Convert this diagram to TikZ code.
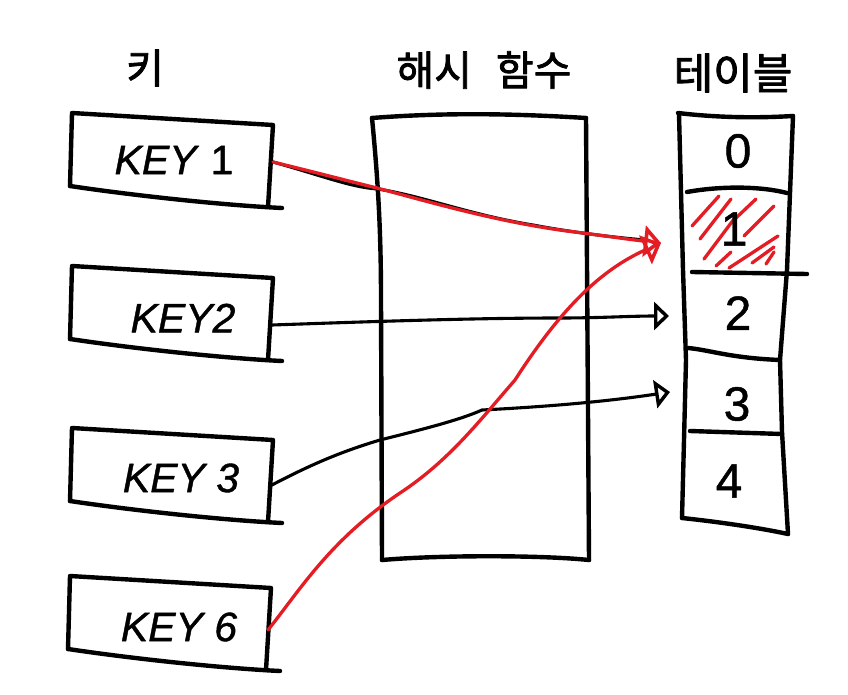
\documentclass[tikz,border=0pt]{standalone}
\usepackage{fontspec}
\setmainfont{Liberation Sans}
\newfontfamily\krfont{Noto Sans CJK KR}[FakeBold=2]
\newfontfamily\keyfont{Liberation Sans}[FakeBold=1]
\usetikzlibrary{arrows.meta}
\definecolor{pred}{RGB}{228,28,36}
\begin{document}
\begin{tikzpicture}[x=1pt,y=-1pt,line cap=round,line join=round,
  pen/.style={line width=4.4pt,black},
  thin pen/.style={line width=3.1pt,black},
  redpen/.style={line width=3.3pt,pred},
  keytxt/.style={font=\keyfont\fontsize{41}{43}\selectfont\itshape,inner sep=0pt},
  numtxt/.style={font=\keyfont\fontsize{48}{50}\selectfont,inner sep=0pt},
  titletxt/.style={font=\krfont\fontsize{41}{43}\selectfont,inner sep=0pt},
  headblack/.style={-{Triangle[open,length=15pt,width=28pt,line width=3.4pt]}},
  headred/.style={-{Triangle[open,length=17pt,width=31pt,line width=3.6pt]}},
  keybox/.pic={
    \draw[pen] (0,73) -- (2,0) -- (203,12) -- (198,94);
    \draw[pen] (0,73) .. controls (60,82) and (150,92) .. (212,95);
  }]
\useasboundingbox (0,0) rectangle (848,695);
\fill[white] (0,0) rectangle (848,695);

% titles
\node[titletxt] (tkey) at (145,68) {키};
\node[titletxt] (thash) at (484,70) {해시\hspace{24pt}함수};
\node[titletxt,font=\krfont\fontsize{43}{45}\selectfont] (ttable) at (733,73) {테이블};

% key boxes
\pic at (70,113) {keybox};
\pic at (70,266) {keybox};
\pic at (70,428) {keybox};
\pic at (68,576) {keybox};
\node[keytxt] (key1) at (174,160) {KEY\hspace{14pt}\upshape 1};
\node[keytxt] (key2) at (183,318) {KEY2};
\node[keytxt] (key3) at (181,478) {KEY 3};
\node[keytxt] (key6) at (179,627) {KEY 6};

% hash function box
\draw[pen] (372,118) .. controls (450,112) and (520,114) .. (586,118);
\draw[pen] (372,118) .. controls (378,180) and (381,230) .. (381,300) -- (382,560);
\draw[pen] (586,118) -- (589,560);
\draw[pen] (382,560) .. controls (440,555) and (540,555) .. (589,560);

% table
\draw[pen] (678,113) .. controls (720,118) and (760,118) .. (793,116);
\draw[pen] (679,114) -- (683,270) -- (686,360) -- (684,440) -- (682,518);
\draw[pen] (793,116) -- (787,270) -- (780,360) -- (782,432) -- (788,534);
\draw[pen] (682,518) .. controls (720,522) and (760,528) .. (788,534);
\draw[pen] (687,192) .. controls (720,186) and (760,186) .. (787,193);
\draw[pen] (692,272) -- (807,274);
\draw[pen] (688,348) .. controls (710,350) and (730,358) .. (780,360);
\draw[pen] (690,431) -- (782,434);

% hatching of cell 1
\foreach \a/\b in {{(692,226)/(719,196)},{(700,239)/(731,199)},{(736,218)/(756,199)},
  {(704,259)/(734,219)},{(744,236)/(774,206)},{(716,266)/(731,252)},
  {(729,268)/(778,236)},{(752,263)/(774,247)},{(766,264)/(774,252)}}
  \draw[redpen] \a -- \b;

% table numbers
\node[numtxt] (n0) at (738,151) {0};
\node[numtxt] (n1) at (734,229) {1};
\node[numtxt] (n2) at (738,313) {2};
\node[numtxt] (n3) at (737,404) {3};
\node[numtxt] (n4) at (729,481) {4};

% connector end points
\coordinate (k1out) at (273,162);
\coordinate (k2out) at (272,325);
\coordinate (k3out) at (270,486);
\coordinate (k6out) at (268,630);
\coordinate (c1in) at (661,243);
\coordinate (c2in) at (669,316);
\coordinate (c3in) at (670,392);

% KEY1 -> 1 (black underneath, red on top)
\draw[thin pen] (k1out) .. controls (320,175) and (350,187) .. (377,189)
  .. controls (420,195) and (470,215) .. (533,225)
  .. controls (570,232) and (610,237) .. (645,240);
\draw[redpen,headred] (k1out) .. controls (330,176) and (360,184) .. (377,188)
  .. controls (440,205) and (500,222) .. (567,231)
  .. controls (600,235) and (625,239) .. (c1in);
% KEY2 -> 2
\draw[thin pen,headblack] (k2out) .. controls (360,322) and (470,318) .. (560,318)
  .. controls (600,318) and (630,316) .. (c2in);
% KEY3 -> 3
\draw[thin pen,headblack] (k3out) .. controls (310,465) and (340,452) .. (380,440)
  .. controls (420,430) and (460,420) .. (482,410)
  .. controls (520,408) and (590,404) .. (c3in);
% KEY6 -> 1
\draw[redpen,headred] (k6out) .. controls (300,590) and (330,540) .. (400,493)
  .. controls (450,460) and (480,420) .. (515,380)
  .. controls (560,310) and (600,270) .. (c1in);
\end{tikzpicture}
\end{document}
